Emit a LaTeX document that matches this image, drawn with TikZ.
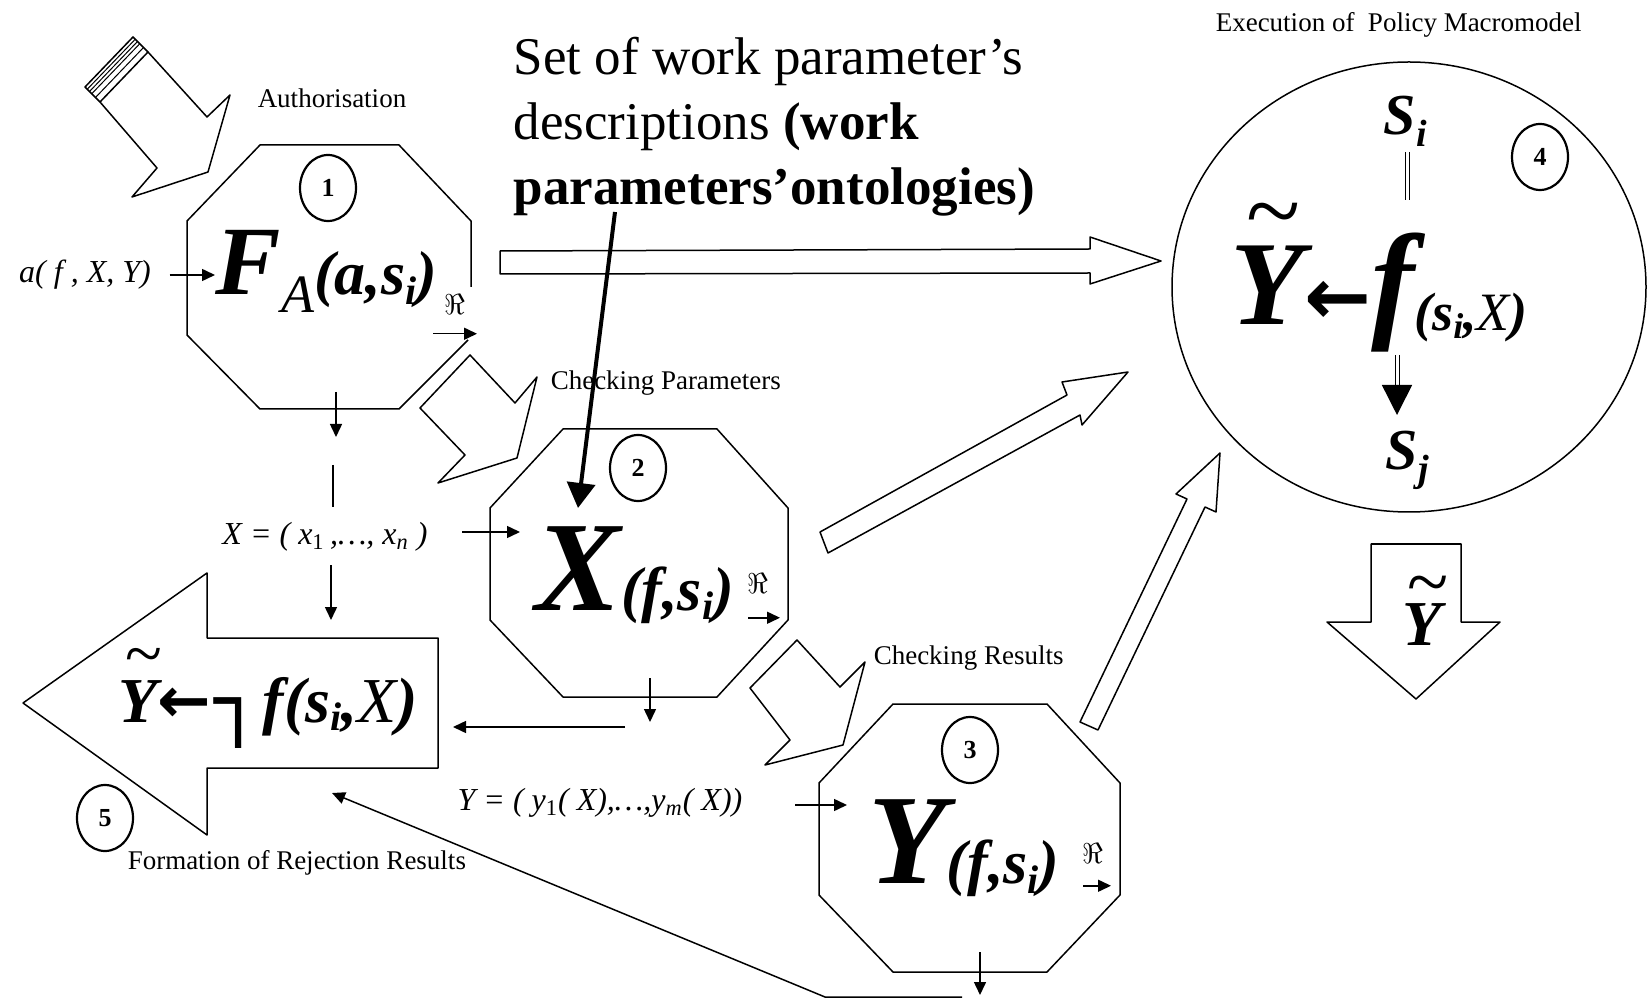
\documentclass[tikz,border=0pt]{standalone}
\usepackage{fontspec}
\setmainfont{Liberation Serif}
\newfontfamily\symfont{DejaVu Sans}
\usetikzlibrary{shapes.geometric,arrows.meta,positioning,calc}

\newcommand{\fs}[1]{\fontsize{#1}{#1}\selectfont}
\newcommand{\bi}{\bfseries\itshape}
% Y with a tilde over it: Y size, tilde size, tilde raise
\newcommand{\tY}[3]{\ooalign{{\fs{#1}\bi Y}\cr\hidewidth\hspace*{6pt}\raisebox{#3}{\fs{#2}\mdseries\upshape\textasciitilde}\hidewidth\cr}}

\begin{document}
\begin{tikzpicture}[x=0.5pt, y=-0.5pt, line width=0.75pt, line join=round,
    lbl/.style={inner sep=0pt, font=\fs{13.5}},
    mlbl/.style={inner sep=0pt, font=\fs{16}\itshape},
    num/.style={ellipse, draw, line width=1.1pt, minimum width=28pt, minimum height=33pt, inner sep=0pt, font=\fs{13}\bfseries},
    formula/.style={anchor=base west, inner sep=0pt},
    re/.style={inner sep=0pt, font=\fs{14}},
    arr/.style={-{Triangle[length=6.5pt,width=6pt]}}]

    \useasboundingbox (0,0) rectangle (1648,999);

    % Block arrows
    \draw (100,102) -- (148,52) -- (207,117) -- (230,95) -- (208,172) -- (132,197) -- (157,168) -- cycle;
    \draw (100,102) -- (85,87) -- (133,37) -- (148,52);
    \foreach \t in {0.15,0.3,0.45,0.7}
        \draw[line width=0.5pt] ($(85,87)!\t!(100,102)$) -- ($(133,37)!\t!(148,52)$);
    \draw (420,408) -- (470,355) -- (515,403) -- (537,377) -- (517,458) -- (438,483) -- (465,455) -- cycle;
    \draw (750,688) -- (797,640) -- (840,687) -- (865,662) -- (843,745) -- (765,765) -- (790,740) -- cycle;
    \draw (500,251) -- (1090,249) -- (1090,237) -- (1161,261) -- (1090,284) -- (1090,273) -- (500,274) -- cycle;
    \draw (828,553) -- (820,532) -- (1067,395) -- (1062,382) -- (1128,372) -- (1082,425) -- (1080,415) -- cycle;
    \draw (1080,722) -- (1187,499) -- (1176,494) -- (1220,453) -- (1216,512) -- (1205,507) -- (1098,730) -- cycle;
    \draw (23,703) -- (207,573) -- (207,638) -- (438,638) -- (438,768) -- (207,768) -- (207,835) -- cycle;
    \draw (1371,544) -- (1461,544) -- (1461,622) -- (1500,622) -- (1416,699) -- (1327,622) -- (1371,622) -- cycle;

    % Octagons and the circle
    \draw (471,287) -- (471,221) -- (399,145) -- (260,145) -- (187,221) -- (187,335) -- (260,409) -- (399,409) -- (468,340);
    \draw (563,429) -- (717,429) -- (788,508) -- (788,620) -- (717,697) -- (563,697) -- (490,620) -- (490,508) -- cycle;
    \draw (893,704) -- (1047,704) -- (1120,783) -- (1120,895) -- (1047,972) -- (893,972) -- (819,895) -- (819,783) -- cycle;
    \draw (1409,287) ellipse [x radius=237, y radius=225];

    % Numbers
    \node[num] (n1) at (328,188) {1};
    \node[num] (n2) at (638,468) {2};
    \node[num] (n3) at (970,750) {3};
    \node[num] (n4) at (1540,157) {4};
    \node[num] (n5) at (105,818) {5};

    % Formulas
    \node[formula] (fa) at (215,295) {\fs{49}\bi F\raisebox{-9pt}{\fs{27}\mdseries A}\fs{31}(a,s\raisebox{-5pt}{\fs{20}i})};
    \node[formula] (xf) at (535,610) {\fs{64}\bi X\fs{31}(f,s\raisebox{-5pt}{\fs{20}i})};
    \node[formula] (yf) at (868,883) {\fs{64}\bi Y\fs{31}(f,s\raisebox{-5pt}{\fs{20}i})};
    \node[formula] (exe) at (1230,325) {\tY{60}{50}{40pt}{\fs{40}\symfont\bfseries ←}\fs{65}\bi f\raisebox{-3pt}{\fs{27}(s\raisebox{-4pt}{\fs{18}i},{\mdseries X})}};
    \node[formula] (rej) at (118,722) {\tY{32}{34}{23pt}{\fs{32}\symfont\bfseries ←}\,\raisebox{-3pt}{\fs{40}\symfont\bfseries ┐}\fs{32}\bi f(s\raisebox{-4pt}{\fs{20}i},{\mdseries X})};
    \node[formula] (yout) at (1402,645) {\tY{32}{38}{19pt}};
    \node[formula] (si) at (1383,135) {\fs{29}\bi S\raisebox{-6pt}{\fs{19}i}};
    \node[formula] (sj) at (1385,470) {\fs{29}\bi S\raisebox{-6pt}{\fs{19}j}};

    % Labels
    \node[lbl, anchor=west] (auth) at (257,98) {Authorisation};
    \node[lbl, anchor=west] (chkp) at (550,383) {Checking Parameters};
    \node[lbl, anchor=west] (chkr) at (873,658) {Checking Results};
    \node[lbl, anchor=west] (exec) at (1215,25) {Execution of~ Policy Macromodel};
    \node[lbl, anchor=west] (form) at (127,863) {Formation of Rejection Results};
    \node[mlbl] (inp) at (85,275) {a( f , X, Y)};
    \node[mlbl] (xlab) at (325,537) {X = ( x\textsubscript{\upshape 1}\,,\ldots, x\textsubscript{n} )};
    \node[mlbl] (ylab) at (600,803) {Y = ( y\textsubscript{\upshape 1}( X),\ldots,y\textsubscript{m}( X))};
    \node[re] (r1) at (455,305) {$\Re$};
    \node[re] (r2) at (758,583) {$\Re$};
    \node[re] (r3) at (1093,853) {$\Re$};
    \node[anchor=north west, inner sep=0pt, align=left, font=\fontsize{26.5}{32.5}\selectfont] (descr) at (513,36)
        {Set of work parameter’s\\descriptions \textbf{(work}\\\textbf{parameters’ontologies)}};

    % Connectors
    \draw[arr] ([xshift=9pt]inp.east) -- (inp.east -| fa.west);
    \draw[arr] ([xshift=-11pt,yshift=-9pt]r1.south) -- ([xshift=11pt,yshift=-9pt]r1.south);
    \draw[arr] ([xshift=-5pt,yshift=-12pt]r2.south) -- ([xshift=11pt,yshift=-12pt]r2.south);
    \draw[arr] ([xshift=-5pt,yshift=-11pt]r3.south) -- ([xshift=9pt,yshift=-11pt]r3.south);
    \draw[arr] (336,392) -- (336,437);
    \draw (333,465) -- (333,507);
    \draw[arr] (331,565) -- (331,620);
    \draw[arr] (462,532) -- (520,532);
    \draw[arr] (650,678) -- (650,722);
    \draw[arr] (625,727) -- (453,727);
    \draw[arr] (795,805) -- (847,805);
    \draw[arr] (980,952) -- (980,995);
    \draw[arr] (962,997) -- (825,997) -- (332,793);
    \draw[line width=2pt, -{Triangle[length=12.5pt,width=14pt]}] (615,212) -- (578,508);
    \draw[double, line width=0.5pt, double distance=1.5pt] (1407,152) -- (1407,200);
    \draw[double, line width=0.5pt, double distance=1.5pt] (1397,355) -- (1397,388);
    \draw[-{Triangle[length=15pt,width=15pt]}] (1397,385) -- (1397,415);
\end{tikzpicture}
\end{document}
